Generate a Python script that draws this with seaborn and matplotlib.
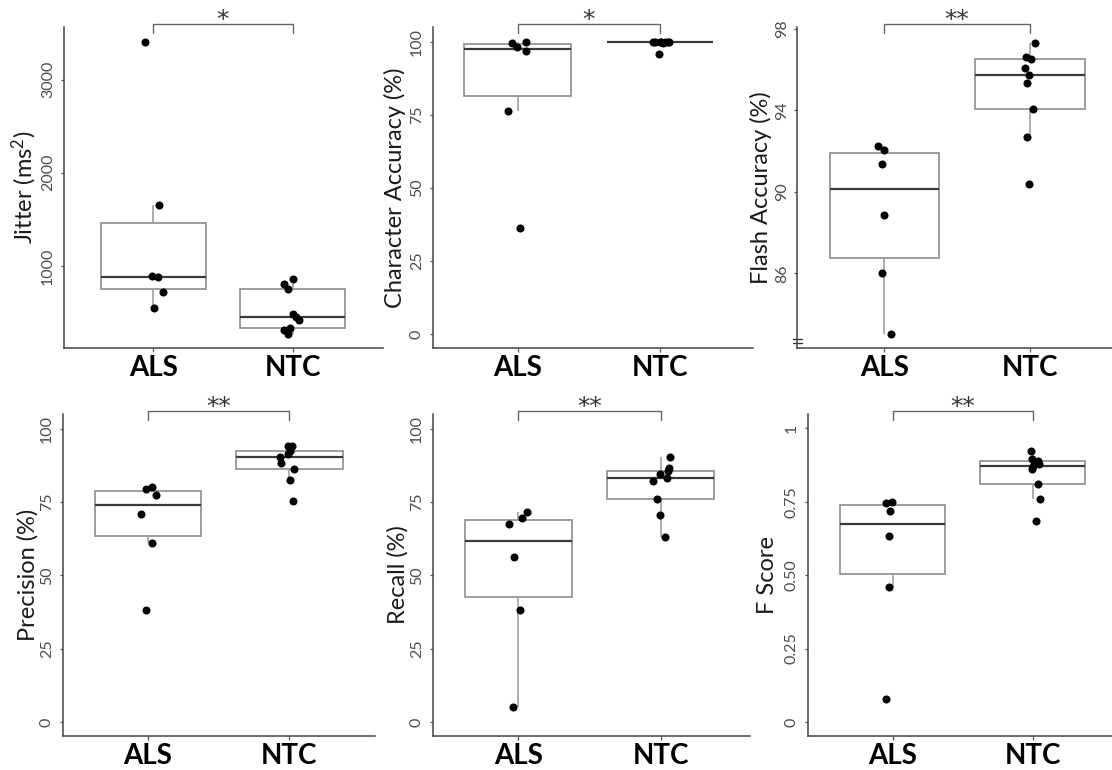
import numpy as np
import pandas as pd
import matplotlib
matplotlib.use("Agg")
import matplotlib.pyplot as plt
import matplotlib.transforms as mtrans
import seaborn as sns

# ---------------- data ----------------
groups = ["ALS", "NTC"]

jitter_als = [3404, 1654, 886, 875, 714, 546]
jitter_ntc = [857, 810, 755, 482, 446, 421, 332, 310, 268]

char_als = [100, 99.6, 98.3, 97.0, 76.3, 36.2]
char_ntc = [100, 100, 100, 100, 100, 100, 100, 99.5, 96.0]

flash_als = [92.24, 92.06, 91.37, 88.86, 86.02, 83.04]
flash_ntc = [97.31, 96.61, 96.51, 96.09, 95.73, 95.34, 94.08, 92.69, 90.38]

prec_als = [80.07, 79.4, 77.56, 70.84, 60.93, 38.27]
prec_ntc = [94.3, 94.1, 92.6, 91.5, 90.3, 88.4, 86.3, 82.7, 75.3]

recall_als = [71.6, 69.55, 67.5, 56.2, 38.2, 5.0]
recall_ntc = [90.4, 86.8, 85.6, 84.7, 83.1, 82.4, 76.1, 70.7, 63.1]

f_als = [0.750, 0.747, 0.717, 0.634, 0.461, 0.078]
f_ntc = [0.924, 0.895, 0.889, 0.879, 0.871, 0.862, 0.810, 0.758, 0.685]

ylabels = ["Jitter (ms$^{2}$)", "Character Accuracy (%)", "Flash Accuracy (%)",
           "Precision (%)", "Recall (%)", "F Score"]
yticks_list = [[1000, 2000, 3000], [0, 25, 50, 75, 100], [86, 90, 94, 98],
               [0, 25, 50, 75, 100], [0, 25, 50, 75, 100], [0, 0.25, 0.5, 0.75, 1]]
yticklabels_list = [["1000", "2000", "3000"], ["0", "25", "50", "75", "100"],
                    ["86", "90", "94", "98"], ["0", "25", "50", "75", "100"],
                    ["0", "25", "50", "75", "100"], ["0", "0.25", "0.50", "0.75", "1"]]
stars = ["*", "*", "**", "**", "**", "**"]

# ---------------- style ----------------
sns.set_style("ticks")
plt.rcParams["font.family"] = ["Lato", "DejaVu Sans"]
plt.rcParams["mathtext.fontset"] = "custom"
plt.rcParams["mathtext.rm"] = "Lato"
plt.rcParams["mathtext.it"] = "Lato:italic"
plt.rcParams["mathtext.bf"] = "Lato:bold"
np.random.seed(7)

W, H = 1112, 770
fig = plt.figure(figsize=(W / 100, H / 100), dpi=100)
fig.patch.set_facecolor("white")

# layout (pixels): left spine, ALS centre, category spacing, right end, top, bottom
layout = [
    (64, 153.3, 139.3, 383, 27, 348),
    (433, 517.7, 142.3, 753, 27, 348),
    (797, 884.3, 145.7, 1112, 27, 348),
    (63, 147.7, 141.7, 375, 414, 736),
    (433, 518.3, 142.3, 750, 414, 736),
    (808, 892.7, 140.0, 1112, 414, 736),
]
ylims = [(118, 3564), (-4.8, 105.1), (82.33, 98.08), (-4.8, 105.1), (-4.8, 105.1), (-0.048, 1.049)]
label_x_px = [24, 395, 761, 28, 398, 768]

datasets = [(jitter_als, jitter_ntc), (char_als, char_ntc), (flash_als, flash_ntc),
            (prec_als, prec_ntc), (recall_als, recall_ntc), (f_als, f_ntc)]

for i, (als, ntc) in enumerate(datasets):
    left, als_px, sp, right, top, bottom = layout[i]
    ax = fig.add_axes([left / W, (H - bottom) / H, (right - left) / W, (bottom - top) / H])
    df = pd.DataFrame({
        "group": ["ALS"] * len(als) + ["NTC"] * len(ntc),
        "value": list(als) + list(ntc),
    })
    sns.boxplot(data=df, x="group", y="value", order=groups, ax=ax, width=0.75,
                color="white", linecolor="#8c8c8c", linewidth=1.2,
                showcaps=False, showfliers=False,
                medianprops=dict(color="#3a3a3a", linewidth=1.6),
                whiskerprops=dict(color="#a0a0a0", linewidth=1.2))
    sns.stripplot(data=df, x="group", y="value", order=groups, ax=ax,
                  color="black", size=5.8, jitter=0.07, zorder=3)

    ax.set_xlim((left - als_px) / sp, (right - als_px) / sp)
    ax.set_ylim(*ylims[i])
    ax.set_xlabel("")
    ax.set_facecolor("white")
    ax.grid(False)

    ax.set_yticks(yticks_list[i])
    ax.set_yticklabels(yticklabels_list[i], rotation=90, va="center",
                       fontsize=11.5, color="#4d4d4d")
    ax.tick_params(axis="y", length=2.5, width=0.9, color="#555555",
                   pad=3 if i == 2 else 4)
    ax.tick_params(axis="x", length=3, width=0.9, color="#555555", pad=2,
                   labelsize=20, labelcolor="black")
    for lbl in ax.get_xticklabels():
        lbl.set_fontweight("bold")

    for s in ["top", "right"]:
        ax.spines[s].set_visible(False)
    for s in ["left", "bottom"]:
        ax.spines[s].set_color("#444444")
        ax.spines[s].set_linewidth(1.1)

    ax.set_ylabel(ylabels[i], fontsize=17, color="#1a1a1a")
    ax.yaxis.label.set_verticalalignment("center")
    ax.yaxis.set_label_coords((label_x_px[i] - left) / (right - left), 0.5)

    # significance bracket
    tr = mtrans.blended_transform_factory(ax.transData, ax.transAxes)
    ax.plot([0, 0, 1, 1], [0.982, 1.01, 1.01, 0.982], color="#666666", lw=1.0,
            transform=tr, clip_on=False)
    ax.text(0.5, 1.0, stars[i], transform=tr, ha="center", va="baseline",
            fontsize=18, color="#333333", family="DejaVu Sans")

    # axis-break mark on the flash accuracy panel
    if i == 2:
        axh = bottom - top
        axw = right - left
        for yy in (339.3, 342.7):
            fy = (bottom - yy) / axh
            ax.plot([-4 / axw, 5 / axw], [fy, fy], color="#333333", lw=1.0,
                    transform=ax.transAxes, clip_on=False)

fig.savefig("out.png", dpi=100, facecolor="white")
